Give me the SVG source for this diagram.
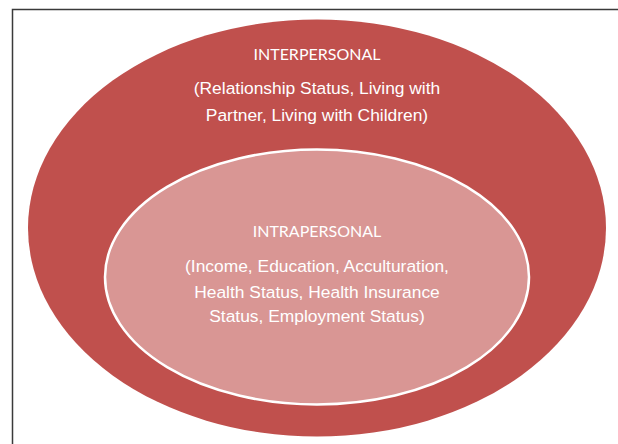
<svg xmlns="http://www.w3.org/2000/svg" width="618" height="444" viewBox="0 0 618 444">
<style>
.frame{fill:none;stroke:#3a3a3a;stroke-width:1.5}
.outer{fill:#C0504D}
.inner{fill:#D99694;stroke:#ffffff;stroke-width:2.5}
.title{font-family:"Lato","Open Sans","Liberation Sans",sans-serif;font-size:16px;fill:#ffffff;text-anchor:middle}
.body{font-family:"Liberation Sans",Arial,sans-serif;font-size:17.4px;fill:#ffffff;text-anchor:middle}
</style>
<rect width="618" height="444" fill="#ffffff"/>
<path class="frame" d="M12.5,450 V9.5 H625"/>
<g id="interpersonal">
<ellipse class="outer" cx="317" cy="228" rx="289" ry="208.5"/>
<text class="title" x="317" y="59.5">INTERPERSONAL</text>
<text class="body" x="317" y="93.5">(Relationship Status, Living with</text>
<text class="body" x="317" y="120.5">Partner, Living with Children)</text>
</g>
<g id="intrapersonal">
<ellipse class="inner" cx="317" cy="277" rx="212" ry="127.5"/>
<text class="title" x="317" y="237">INTRAPERSONAL</text>
<text class="body" x="317" y="271.5">(Income, Education, Acculturation,</text>
<text class="body" x="317" y="297.5">Health Status, Health Insurance</text>
<text class="body" x="317" y="322">Status, Employment Status)</text>
</g>
<g id="connectors"/>
</svg>
